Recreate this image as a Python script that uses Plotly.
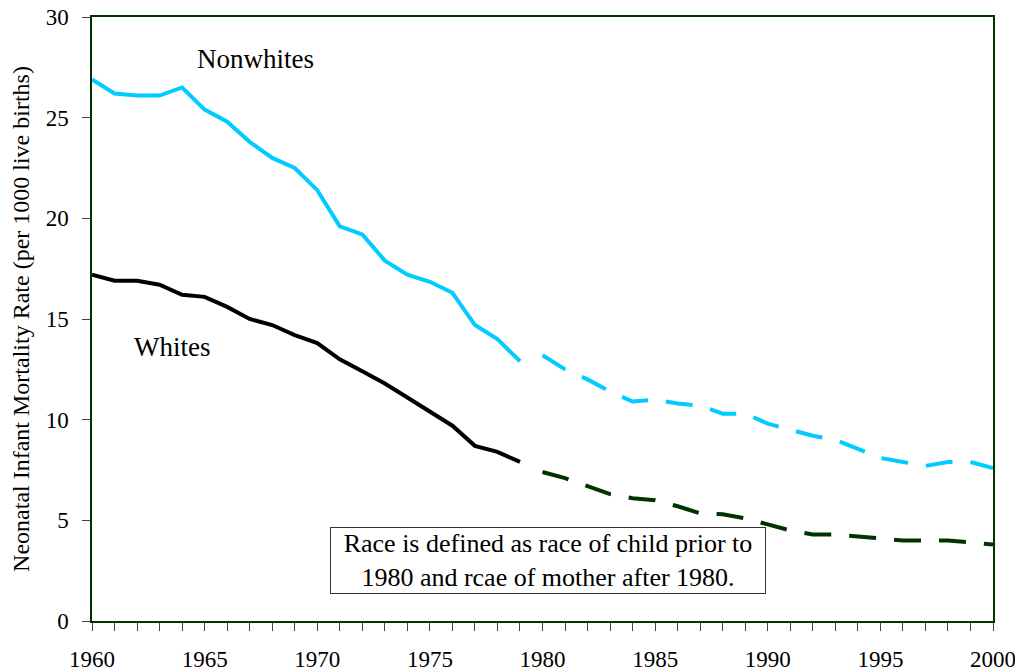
import plotly.graph_objects as go

years_solid = list(range(1960, 1980))
years_dash = list(range(1980, 2001))

nonwhite_solid = [26.9, 26.2, 26.1, 26.1, 26.5, 25.4, 24.8, 23.8, 23.0, 22.5,
                  21.4, 19.6, 19.2, 17.9, 17.2, 16.85, 16.3, 14.7, 14.0, 12.9]
nonwhite_dash = [13.2, 12.5, 12.0, 11.4, 10.9, 11.0, 10.8, 10.7, 10.3, 10.3,
                 9.8, 9.5, 9.2, 9.0, 8.55, 8.1, 7.9, 7.7, 7.9, 7.9, 7.6]
white_solid = [17.2, 16.9, 16.9, 16.7, 16.2, 16.1, 15.6, 15.0, 14.7, 14.2,
               13.8, 13.0, 12.4, 11.8, 11.1, 10.4, 9.7, 8.7, 8.4, 7.9]
white_dash = [7.4, 7.1, 6.7, 6.3, 6.1, 6.0, 5.7, 5.35, 5.3, 5.1,
              4.8, 4.5, 4.3, 4.3, 4.2, 4.1, 4.0, 4.0, 4.0, 3.9, 3.8]

x_ticks = [1960, 1965, 1970, 1975, 1980, 1985, 1990, 1995, 2000]
y_ticks = [0, 5, 10, 15, 20, 25, 30]

CYAN = "#00CCFF"
DKGREEN = "#003300"
FONT = "Times New Roman, Liberation Serif, serif"

fig = go.Figure()
fig.add_trace(go.Scatter(x=years_solid, y=nonwhite_solid, mode="lines",
                         line=dict(color=CYAN, width=4), showlegend=False))
fig.add_trace(go.Scatter(x=years_dash, y=nonwhite_dash, mode="lines",
                         line=dict(color=CYAN, width=4, dash="27px,18px"), showlegend=False))
fig.add_trace(go.Scatter(x=years_solid, y=white_solid, mode="lines",
                         line=dict(color="#000000", width=4), showlegend=False))
fig.add_trace(go.Scatter(x=years_dash, y=white_dash, mode="lines",
                         line=dict(color=DKGREEN, width=4, dash="27px,18px"), showlegend=False))

fig.update_layout(
    width=1015, height=663,
    margin=dict(l=84, r=30, t=9, b=50),
    plot_bgcolor="white", paper_bgcolor="white",
    font=dict(family=FONT, size=20, color="black"),
    xaxis=dict(range=[1960, 2000], tickvals=x_ticks, showgrid=False, zeroline=False,
               automargin=False, ticklabeloverflow="allow",
               showline=True, mirror=True, linecolor=DKGREEN, linewidth=1.5,
               ticks="outside", ticklen=8, tickcolor="#444", ticklabelstandoff=9,
               minor=dict(dtick=1, ticks="outside", ticklen=8, tickcolor="#444"),
               tickfont=dict(family=FONT, size=23)),
    yaxis=dict(range=[0, 30], tickvals=y_ticks, showgrid=False, zeroline=False,
               automargin=False, ticklabeloverflow="allow",
               showline=True, mirror=True, linecolor=DKGREEN, linewidth=1.5,
               ticks="outside", ticklen=8, tickcolor="#444", ticklabelstandoff=9,
               tickfont=dict(family=FONT, size=23),
               title=dict(text="Neonatal Infant Mortality Rate (per 1000 live births)",
                          font=dict(family=FONT, size=24), standoff=10)),
    annotations=[
        dict(x=1967.28, y=27.92, xref="x", yref="y", text="Nonwhites", showarrow=False,
             font=dict(family=FONT, size=27)),
        dict(x=1963.55, y=13.61, xref="x", yref="y", text="Whites", showarrow=False,
             font=dict(family=FONT, size=27)),
        dict(x=1980.24, y=3.0, xref="x", yref="y",
             text="Race is defined as race of child prior to<br>1980 and rcae of mother after 1980.",
             showarrow=False, font=dict(family=FONT, size=26), align="center",
             bordercolor="#333", borderwidth=1, bgcolor="white", borderpad=1,
             width=432, height=63),
    ],
)

fig.write_html("out.html")
